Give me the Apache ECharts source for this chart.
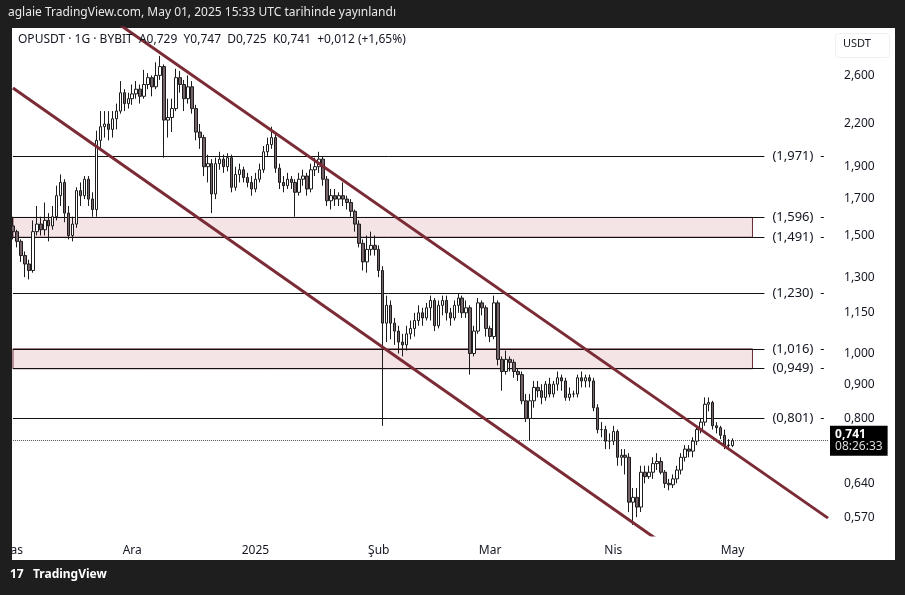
<!DOCTYPE html>
<html>
<head>
<meta charset="utf-8">
<script src="https://cdn.jsdelivr.net/npm/echarts@6/dist/echarts.min.js"></script>
<style>
  html,body{margin:0;padding:0;background:#1e1e1e;}
  #chart{width:905px;height:595px;}
</style>
</head>
<body>
<div id="chart"></div>
<script>
// günlük mumlar, 1 Kasım 2024 - 1 Mayıs 2025
var closes=[1.52,1.47,1.40,1.36,1.33,1.52,1.56,1.53,1.58,1.55,1.60,1.72,1.80,1.62,1.50,1.56,1.75,1.72,1.82,1.70,
  1.64,2.08,2.18,2.20,2.16,2.24,2.30,2.45,2.36,2.40,2.44,2.48,2.42,2.52,2.58,2.50,2.60,2.68,2.23,2.25,
  2.32,2.58,2.52,2.40,2.50,2.32,2.14,2.10,1.90,1.92,1.73,1.92,1.95,1.90,1.96,1.77,1.85,1.88,1.83,1.80,
  1.76,1.82,1.88,2.00,2.05,2.10,1.89,1.80,1.78,1.82,1.80,1.74,1.82,1.84,1.76,1.88,1.90,1.95,1.82,1.69,
  1.72,1.70,1.72,1.70,1.68,1.63,1.56,1.46,1.37,1.43,1.45,1.43,1.33,1.11,1.18,1.11,1.08,1.04,1.03,1.07,
  1.09,1.12,1.15,1.13,1.17,1.20,1.10,1.18,1.20,1.15,1.13,1.18,1.21,1.15,1.17,1.00,1.08,1.19,1.17,1.09,
  1.06,1.19,0.98,0.94,0.98,0.97,0.94,0.93,0.85,0.80,0.85,0.89,0.88,0.86,0.90,0.87,0.90,0.92,0.91,0.86,
  0.87,0.87,0.92,0.91,0.92,0.91,0.83,0.77,0.77,0.74,0.74,0.765,0.70,0.705,0.70,0.60,0.61,0.59,0.665,0.655,
  0.665,0.685,0.69,0.665,0.64,0.637,0.65,0.67,0.70,0.72,0.715,0.74,0.77,0.79,0.84,0.845,0.78,0.775,0.755,0.73,
  0.729,0.741];
var highs=[1.60,1.53,1.48,1.42,1.38,1.58,1.66,1.60,1.68,1.62,1.66,1.78,1.85,1.82,1.66,1.60,1.77,1.80,1.84,1.84,
  1.74,2.15,2.30,2.30,2.30,2.30,2.36,2.55,2.48,2.45,2.52,2.55,2.52,2.65,2.62,2.60,2.72,2.78,2.70,2.40,
  2.40,2.66,2.64,2.56,2.60,2.55,2.35,2.20,2.12,1.98,1.95,1.96,2.00,1.98,1.99,1.98,1.90,1.92,1.90,1.86,
  1.84,1.86,1.92,2.04,2.10,2.18,2.12,1.92,1.84,1.86,1.84,1.82,1.86,1.88,1.86,1.92,1.96,2.00,1.97,1.84,
  1.76,1.76,1.74,1.80,1.72,1.70,1.64,1.58,1.48,1.50,1.52,1.50,1.45,1.35,1.22,1.20,1.13,1.10,1.07,1.10,
  1.12,1.15,1.18,1.17,1.19,1.22,1.21,1.20,1.22,1.22,1.17,1.20,1.23,1.22,1.20,1.18,1.10,1.21,1.20,1.18,
  1.10,1.22,1.20,0.99,1.01,0.99,0.98,0.95,0.94,0.87,0.87,0.91,0.91,0.90,0.91,0.92,0.91,0.94,0.93,0.92,
  0.89,0.88,0.93,0.94,0.93,0.93,0.92,0.84,0.79,0.78,0.76,0.78,0.77,0.72,0.72,0.71,0.63,0.63,0.68,0.68,
  0.68,0.70,0.71,0.70,0.67,0.65,0.66,0.68,0.71,0.73,0.73,0.75,0.78,0.80,0.86,0.86,0.85,0.79,0.78,0.77,
  0.745,0.747];
var lows=[1.48,1.44,1.37,1.30,1.29,1.32,1.50,1.50,1.50,1.47,1.53,1.58,1.66,1.57,1.48,1.47,1.54,1.66,1.70,1.66,
  1.60,1.60,2.02,2.10,2.08,2.10,2.16,2.28,2.30,2.32,2.35,2.40,2.36,2.40,2.48,2.42,2.48,2.56,1.96,2.10,
  2.14,2.30,2.45,2.30,2.36,2.28,2.08,2.02,1.84,1.80,1.62,1.70,1.88,1.86,1.87,1.74,1.75,1.80,1.80,1.77,
  1.72,1.74,1.80,1.86,1.97,2.02,1.86,1.76,1.74,1.76,1.76,1.60,1.72,1.78,1.72,1.74,1.84,1.86,1.78,1.66,
  1.64,1.66,1.66,1.66,1.64,1.60,1.52,1.44,1.33,1.32,1.40,1.40,1.30,0.78,1.04,1.05,1.03,1.00,0.99,1.01,
  1.05,1.06,1.10,1.10,1.12,1.12,1.08,1.09,1.14,1.12,1.10,1.12,1.15,1.13,1.13,0.93,0.99,1.07,1.14,1.06,
  1.04,1.05,0.96,0.88,0.93,0.94,0.92,0.91,0.84,0.79,0.74,0.83,0.86,0.84,0.85,0.86,0.86,0.88,0.88,0.85,
  0.85,0.86,0.86,0.89,0.89,0.89,0.82,0.76,0.75,0.72,0.72,0.73,0.68,0.68,0.66,0.58,0.555,0.57,0.58,0.64,
  0.65,0.65,0.67,0.66,0.63,0.625,0.63,0.64,0.66,0.69,0.70,0.70,0.73,0.76,0.78,0.82,0.77,0.76,0.745,0.72,
  0.72,0.725];
var firstOpen=1.55;
var levels=[1.971,1.230,0.801];
var zones=[[1.491,1.596],[0.949,1.016]];
var axisTicks=[2.6,2.2,1.9,1.7,1.5,1.3,1.15,1.0,0.9,0.8,0.64,0.57];
var monthLabels={0:'Kas',30:'Ara',61:'2025',92:'Şub',120:'Mar',151:'Nis',181:'May'};
var lastPrice=0.741;
var lowerChannel=[[0,2.49],[175,0.466]];
var upperChannel=[[25,3.15],[205,0.568]];

var extraDays=24;
var dates=[];
var start=new Date(Date.UTC(2024,10,1));
for(var i=0;i<closes.length+extraDays;i++){
  var d=new Date(start.getTime()+i*86400000);
  dates.push(d.toISOString().slice(0,10));
}
var lastIdx=dates.length-1;
var candles=[];
for(var i=0;i<closes.length;i++){
  var o=i==0?firstOpen:closes[i-1];
  candles.push([o,closes[i],lows[i],highs[i]]);
}
function fmt(v,dec){return v.toFixed(dec).replace('.',',');}

var FONT='"Noto Sans", sans-serif';
var TXT='#131722';
var levelLines=levels.map(function(v){
  return [{coord:[0,v]},{coord:[189,v],label:{formatter:'('+fmt(v,3)+')  -'}}];
});
zones.forEach(function(z){
  z.forEach(function(v){
    levelLines.push([{coord:[0,v]},{coord:[189,v],label:{formatter:'('+fmt(v,3)+')  -'}}]);
  });
});
var tickLines=axisTicks.map(function(v){
  return [{coord:[0,v]},{coord:[lastIdx,v],label:{formatter:fmt(v,3)}}];
});

var chart=echarts.init(document.getElementById('chart'));
chart.setOption({
  backgroundColor:'#1e1e1e',
  animation:false,
  graphic:[
    {type:'rect',left:10,top:28,shape:{width:885,height:532},style:{fill:'#ffffff'},z:-10},
    {type:'text',left:8,top:7,style:{text:'aglaie TradingView.com, May 01, 2025 15:33 UTC tarihinde yayınlandı',fill:'#e8e8e8',font:'12px '+FONT}},
    {type:'text',left:18,top:34,z:50,style:{text:'OPUSDT · 1G · BYBIT  A0,729  Y0,747  D0,725  K0,741  +0,012 (+1,65%)',fill:TXT,font:'12px '+FONT}},
    {type:'rect',left:835,top:33,z:50,shape:{width:54,height:24,r:3},style:{fill:'#fff',stroke:'#f0f0f0'}},
    {type:'text',left:843,top:38,z:51,style:{text:'USDT',fill:TXT,font:'11px '+FONT}},
    {type:'text',left:10,top:569,style:{text:'17',fill:'#ffffff',font:'bold 12px '+FONT}},
    {type:'text',left:33,top:569,style:{text:'TradingView',fill:'#ffffff',font:'bold 12px '+FONT}},
    {type:'rect',left:0,top:28,shape:{width:12,height:532},style:{fill:'#1e1e1e'},z:100}
  ],
  grid:{left:10,right:75,top:28,bottom:60},
  xAxis:{
    type:'category',data:dates,boundaryGap:true,
    axisLine:{show:false},axisTick:{show:false},splitLine:{show:false},
    axisLabel:{
      interval:function(i){return monthLabels[i]!==undefined;},
      formatter:function(v,i){return monthLabels[i]||'';},
      color:TXT,fontFamily:FONT,fontSize:12,margin:10
    }
  },
  yAxis:{
    type:'log',logBase:10,min:0.536,max:3.06,position:'right',
    axisLine:{show:false},axisTick:{show:false},axisLabel:{show:false},splitLine:{show:false}
  },
  series:[
    {
      type:'candlestick',data:candles,barWidth:3,z:5,
      itemStyle:{color:'#ffffff',color0:'#76636a',borderColor:'#1c1c1c',borderColor0:'#1c1c1c',borderWidth:1}
    },
    {
      type:'line',data:[],symbol:'none',z:3,
      markArea:{silent:true,itemStyle:{color:'rgba(200,120,130,0.2)',borderColor:'#6b2a33',borderWidth:1},
        data:zones.map(function(z){return [{coord:[0,z[1]]},{coord:[186,z[0]]}];})},
      markLine:{silent:true,symbol:'none',lineStyle:{color:'#111',width:1,type:'solid'},
        label:{position:'end',distance:8,color:TXT,fontFamily:FONT,fontSize:13},
        data:levelLines}
    },
    {
      type:'line',data:[],symbol:'none',z:2,
      markLine:{silent:true,symbol:'none',lineStyle:{color:'rgba(0,0,0,0)',width:0},
        label:{position:'end',distance:16,color:TXT,fontFamily:FONT,fontSize:12},
        data:tickLines}
    },
    {
      type:'line',data:[],symbol:'none',z:4,
      markLine:{silent:true,symbol:'none',lineStyle:{color:'#555',width:1,type:'dotted'},
        label:{position:'end',distance:2,backgroundColor:'#000',padding:[3,5],color:'#fff',fontFamily:FONT,
          formatter:'{a|'+fmt(lastPrice,3)+'}\n{b|08:26:33}',rich:{a:{fontWeight:'bold',fontSize:12,color:'#fff',fontFamily:FONT},b:{fontSize:12,color:'#ddd',fontFamily:FONT}}},
        data:[[{coord:[0,lastPrice]},{coord:[lastIdx,lastPrice]}]]}
    },
    {type:'line',data:lowerChannel,symbol:'none',clip:true,z:6,lineStyle:{color:'#7a2b35',width:3}},
    {type:'line',data:upperChannel,symbol:'none',clip:true,z:6,lineStyle:{color:'#7a2b35',width:3}}
  ]
});
</script>
</body>
</html>
